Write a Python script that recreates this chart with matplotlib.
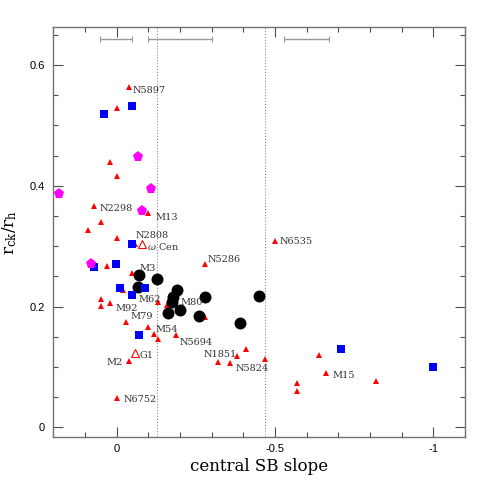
import matplotlib
matplotlib.use("Agg")
import matplotlib.pyplot as plt
from matplotlib.ticker import MultipleLocator

plt.rcParams["mathtext.fontset"] = "dejavuserif"

# black circles
circ_x = [-0.069, -0.128, -0.068, -0.189, -0.178, -0.174, -0.200, -0.161, -0.280, -0.259, -0.448, -0.389]
circ_y = [0.253, 0.245, 0.233, 0.227, 0.215, 0.207, 0.195, 0.190, 0.216, 0.184, 0.218, 0.172]

# blue squares
sq_x = [-0.049, 0.040, -0.049, 0.001, 0.071, -0.010, -0.089, -0.049, -0.070, -0.709, -1.000]
sq_y = [0.532, 0.519, 0.303, 0.270, 0.266, 0.231, 0.231, 0.219, 0.152, 0.130, 0.100]

# magenta pentagons
pent_x = [-0.068, 0.182, -0.109, -0.079, 0.081]
pent_y = [0.447, 0.386, 0.394, 0.359, 0.270]

# open red triangles (omega Cen, G1)
open_x = [-0.079, -0.058]
open_y = [0.303, 0.123]

# filled red triangles
tri_x = [-0.040, 0.000, 0.021, 0.000, 0.071, -0.100, 0.050, 0.090, 0.000, -0.058,
         0.030, -0.049, -0.021, 0.051, 0.021, 0.051, -0.129, -0.029, -0.100, -0.119,
         -0.129, -0.187, -0.160, -0.279, -0.500, -0.280, -0.040, 0.000, -0.409, -0.381,
         -0.320, -0.359, -0.470, -0.640, -0.660, -0.569, -0.569, -0.820]
tri_y = [0.564, 0.529, 0.440, 0.416, 0.367, 0.355, 0.340, 0.327, 0.314, 0.304,
         0.267, 0.256, 0.228, 0.212, 0.206, 0.201, 0.207, 0.175, 0.166, 0.155,
         0.147, 0.152, 0.203, 0.270, 0.309, 0.182, 0.109, 0.048, 0.130, 0.118,
         0.108, 0.106, 0.113, 0.120, 0.090, 0.074, 0.060, 0.076]

# cluster names and where they are written
names = ["N5897", "N2298", "M13", "N2808", r"$\omega$ Cen", "M3", "M62", "M80", "M92",
         "M79", "M54", "N5694", "G1", "M2", "N6752", "N5286", "N6535", "N1851", "N5824", "M15"]
name_x = [-0.049, 0.055, -0.121, -0.061, -0.097, -0.071, -0.068, -0.200, 0.004,
          -0.042, -0.124, -0.200, -0.071, -0.021, -0.021, -0.286, -0.516, -0.276, -0.376, -0.681]
name_y = [0.557, 0.362, 0.347, 0.317, 0.300, 0.263, 0.212, 0.207, 0.196,
          0.183, 0.162, 0.141, 0.119, 0.107, 0.046, 0.278, 0.308, 0.121, 0.097, 0.086]

# typical uncertainty bars at the top
err_x = [0.002, -0.200, -0.600]
err_w = [0.051, 0.100, 0.071]
err_y = 0.643

# dividing slopes
vlines = [-0.128, -0.470]

fig = plt.figure(figsize=(4.91, 4.91), dpi=100)
ax = fig.add_axes([0.1086, 0.1094, 0.8384, 0.8356])

for v in vlines:
    ax.axvline(v, color="0.45", linestyle=(0, (1, 2)), linewidth=0.7, zorder=1)

ax.errorbar(err_x, [err_y] * len(err_x), xerr=err_w, fmt="none", ecolor="0.6",
            elinewidth=1.0, capsize=2.5, capthick=0.8)

ax.plot(tri_x, tri_y, "^", color="red", markersize=4, markeredgewidth=0, zorder=3)
ax.plot(open_x, open_y, "^", markerfacecolor="white", markeredgecolor="red",
        markersize=6, markeredgewidth=0.8, zorder=3)
ax.plot(circ_x, circ_y, "o", color="black", markersize=8.6, markeredgewidth=0, zorder=4)
ax.plot(sq_x, sq_y, "s", color="blue", markersize=6, markeredgewidth=0, zorder=4)
ax.plot(pent_x, pent_y, "p", color="magenta", markersize=8, markeredgewidth=0, zorder=4)

for n, x, y in zip(names, name_x, name_y):
    ha = "right" if n == "M2" else "left"
    ax.text(x, y, n, ha=ha, va="center", fontsize=7,
            family="DejaVu Serif", color="0.2", zorder=5)

ax.set_xlim(0.2, -1.1)
ax.set_ylim(-0.0166, 0.663)
ax.xaxis.set_major_locator(MultipleLocator(0.5))
ax.xaxis.set_minor_locator(MultipleLocator(0.1))
ax.yaxis.set_major_locator(MultipleLocator(0.2))
ax.yaxis.set_minor_locator(MultipleLocator(0.05))
ax.xaxis.set_major_formatter(lambda v, p: "%g" % v)
ax.yaxis.set_major_formatter(lambda v, p: "%g" % v)
ax.tick_params(which="both", direction="in", top=True, right=True, color="0.3",
               width=0.8, labelsize=8)
ax.tick_params(axis="x", pad=5)
ax.tick_params(axis="y", pad=6)
ax.tick_params(which="major", length=7)
ax.tick_params(which="minor", length=3.5)
for lab in ax.get_xticklabels() + ax.get_yticklabels():
    lab.set_family("Liberation Sans")
for s in ax.spines.values():
    s.set_color("0.45")
    s.set_linewidth(1.0)

ax.set_xlabel("central SB slope", family="DejaVu Serif", fontsize=12, labelpad=3)
ax.set_ylabel(r"$\mathrm{r_{ck}/r_h}$", fontsize=12, labelpad=8)

fig.savefig("out.png", dpi=100)
